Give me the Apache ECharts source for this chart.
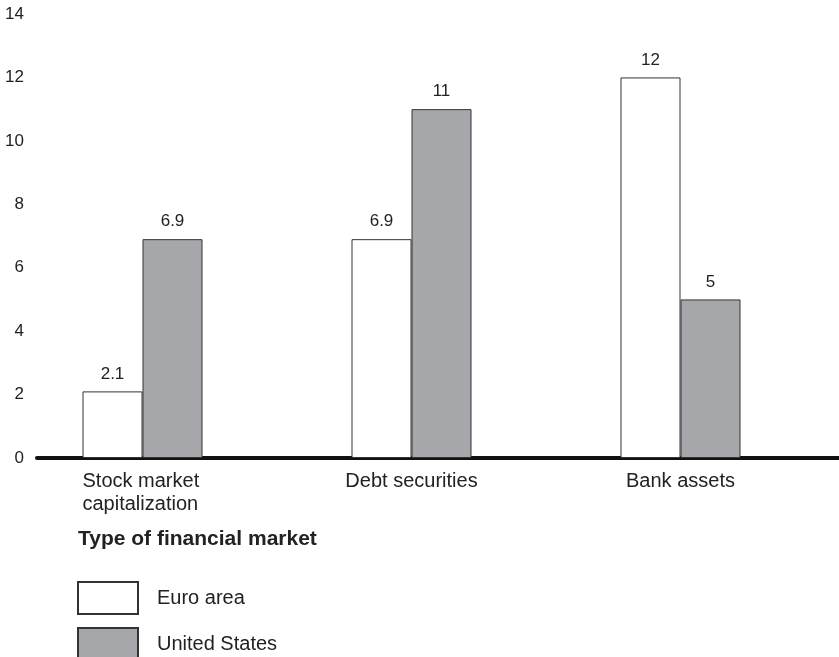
<!DOCTYPE html>
<html>
<head>
<meta charset="utf-8">
<script src="https://cdn.jsdelivr.net/npm/echarts@6/dist/echarts.min.js"></script>
<style>
  html, body { margin: 0; padding: 0; background: #fff; }
  #chart { width: 839px; height: 657px; }
</style>
</head>
<body>
<div id="chart"></div>
<script>
// 数据
var categories = ['Stock market\ncapitalization', 'Debt securities', 'Bank assets'];
var euroArea = [2.1, 6.9, 12];
var unitedStates = [6.9, 11, 5];
var yTicks = [0, 2, 4, 6, 8, 10, 12, 14];

var font = '"Liberation Sans", Arial, sans-serif';
var chart = echarts.init(document.getElementById('chart'));

function legendItem(name, top) {
    return {
        left: 77,
        top: top,
        padding: 0,
        itemWidth: 60,
        itemHeight: 32,
        icon: 'rect',
        textStyle: { fontFamily: font, fontSize: 20, color: '#222', padding: [0, 0, 0, 14] },
        data: [name]
    };
}

chart.setOption({
    backgroundColor: '#fff',
    animation: false,
    textStyle: { fontFamily: font, color: '#222' },
    title: {
        text: 'Type of financial market',
        left: 78,
        top: 529,
        padding: 0,
        textStyle: { fontFamily: font, fontSize: 21, fontWeight: 'bold', color: '#222' }
    },
    legend: [legendItem('Euro area', 581), legendItem('United States', 627)],
    grid: [
        { left: 8, right: 24, top: 14, bottom: 199 },
        { left: 37, right: 0, top: 14, bottom: 199 }
    ],
    xAxis: [{
        type: 'category',
        gridIndex: 0,
        data: categories,
        axisLine: { show: false },
        axisTick: { show: false },
        axisLabel: {
            margin: 12,
            fontSize: 20,
            lineHeight: 23,
            color: '#222',
            fontFamily: font,
            formatter: function (v) {
                // 两行标签左对齐
                if (v.indexOf('\n') < 0) return v;
                return v.split('\n').map(function (s) { return '{a|' + s + '}'; }).join('\n');
            },
            rich: {
                a: { width: 120, align: 'left', fontSize: 20, lineHeight: 23, color: '#222', fontFamily: font }
            }
        }
    }, {
        // 底部粗横线
        type: 'value',
        gridIndex: 1,
        min: 0,
        max: 1,
        axisLine: { show: true, lineStyle: { color: '#111', width: 4 } },
        axisTick: { show: false },
        axisLabel: { show: false },
        splitLine: { show: false }
    }],
    yAxis: [{
        type: 'value',
        gridIndex: 0,
        min: yTicks[0],
        max: yTicks[yTicks.length - 1],
        interval: 2,
        axisLine: { show: false },
        axisTick: { show: false },
        splitLine: { show: false },
        axisLabel: {
            inside: true,
            align: 'right',
            margin: 16,
            fontSize: 17,
            color: '#222',
            fontFamily: font
        }
    }, {
        type: 'value',
        gridIndex: 1,
        show: false
    }],
    series: [{
        name: 'Euro area',
        type: 'bar',
        barWidth: 60,
        barGap: '0%',
        data: euroArea,
        itemStyle: { color: '#fff', borderColor: '#333', borderWidth: 1 },
        label: { show: true, position: 'top', distance: 9, fontSize: 17, color: '#222', fontFamily: font }
    }, {
        name: 'United States',
        type: 'bar',
        barWidth: 60,
        barGap: '0%',
        data: unitedStates,
        itemStyle: { color: '#a6a7ab', borderColor: '#333', borderWidth: 1 },
        label: { show: true, position: 'top', distance: 9, fontSize: 17, color: '#222', fontFamily: font }
    }]
});
</script>
</body>
</html>
